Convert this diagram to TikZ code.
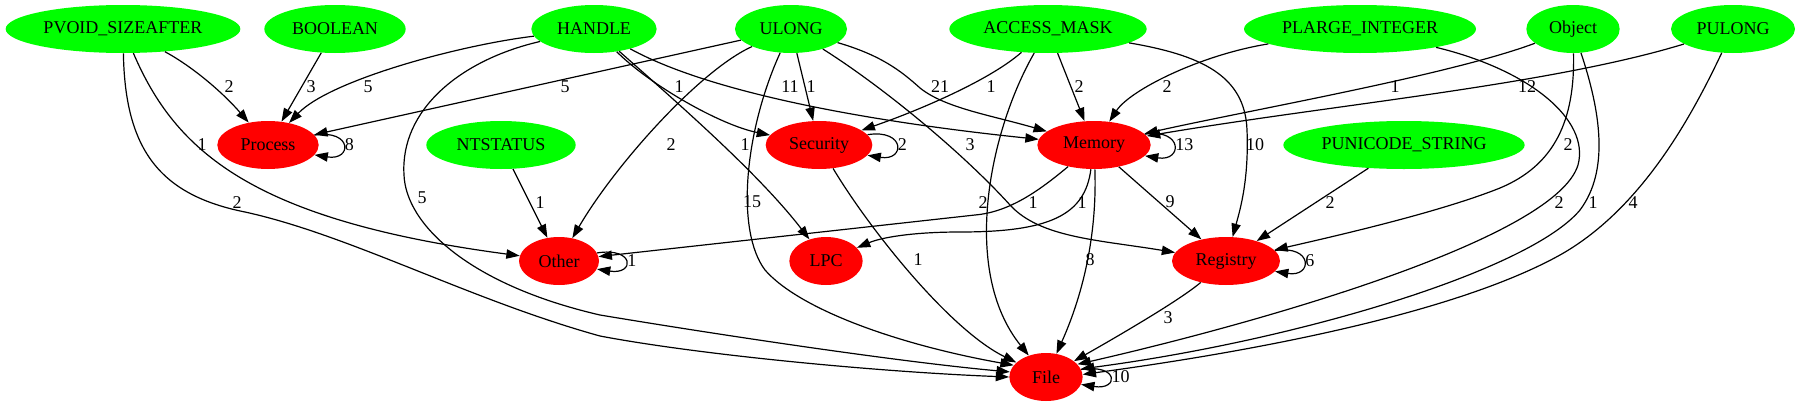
\documentclass[tikz,border=0pt]{standalone}
\usepackage{fontspec}
\setmainfont{Liberation Serif}
\usetikzlibrary{shapes.geometric,arrows.meta}
\definecolor{gvgreen}{HTML}{00FF00}
\definecolor{gvred}{HTML}{FF0000}

\begin{document}
\begin{tikzpicture}[x=0.75pt, y=-0.75pt,
    font=\fontsize{13.5}{16}\selectfont,
    >={Triangle[length=10pt,width=7pt]},
    typenode/.style={ellipse, fill=gvgreen, minimum height=36pt, inner sep=0pt},
    catnode/.style={ellipse, fill=gvred, minimum height=36pt, inner sep=0pt},
    link/.style={->, line width=0.9pt},
    lbl/.style={inner sep=1pt}]
                \useasboundingbox (0,0) rectangle (1801,407);
                \node[typenode, minimum width=176pt] (pvoid) at (123,29) {PVOID\_SIZEAFTER};
                \node[typenode, minimum width=106pt] (boolean) at (335,29) {BOOLEAN};
                \node[typenode, minimum width=94pt] (handle) at (594,29) {HANDLE};
                \node[typenode, minimum width=84pt] (ulong) at (791,29) {ULONG};
                \node[typenode, minimum width=148pt] (accessmask) at (1048,29) {ACCESS\_MASK};
                \node[typenode, minimum width=174pt] (plarge) at (1360,29) {PLARGE\_INTEGER};
                \node[typenode, minimum width=70pt] (object) at (1573,29) {Object};
                \node[typenode, minimum width=93pt] (pulong) at (1733,29) {PULONG};
                \node[catnode, minimum width=76pt] (process) at (268,145) {Process};
                \node[typenode, minimum width=112pt] (ntstatus) at (501,145) {NTSTATUS};
                \node[catnode, minimum width=80pt] (security) at (819,145) {Security};
                \node[catnode, minimum width=85pt] (memory) at (1094,145) {Memory};
                \node[typenode, minimum width=181pt] (punicode) at (1404,145) {PUNICODE\_STRING};
                \node[catnode, minimum width=60pt] (other) at (559,261) {Other};
                \node[catnode, minimum width=55pt] (lpc) at (826,261) {LPC};
                \node[catnode, minimum width=81pt] (registry) at (1226,261) {Registry};
                \node[catnode, minimum width=55pt] (file) at (1046,377) {File};
                \draw[link] (pvoid) .. controls (195,68) and (225,95) .. (process) node[lbl] at (229,87) {2};
                \draw[link] (pvoid) .. controls (175,150) and (250,220) .. (other) node[lbl] at (202,145) {1};
                \draw[link] (pvoid) .. controls (125,150) and (160,195) .. (245,212)
                    .. controls (350,235) and (470,300) .. (600,336)
                    .. controls (700,355) and (880,372) .. (file.180) node[lbl] at (237,203) {2};
                \draw[link] (boolean) -- (process) node[lbl] at (311,87) {3};
                \draw[link] (handle) .. controls (460,45) and (330,80) .. (process) node[lbl] at (368,87) {5};
                \draw[link] (handle) .. controls (460,60) and (400,110) .. (404,175)
                    .. controls (406,225) and (470,285) .. (600,315)
                    .. controls (720,335) and (900,362) .. (file.172) node[lbl] at (422,198) {5};
                \draw[link] (handle) .. controls (650,85) and (720,125) .. (security) node[lbl] at (679,87) {1};
                \draw[link] (handle) .. controls (680,105) and (760,175) .. (lpc) node[lbl] at (745,145) {1};
                \draw[link] (handle) .. controls (720,98) and (900,125) .. (memory) node[lbl] at (790,87) {11};
                \draw[link] (ulong) -- (process) node[lbl] at (565,87) {5};
                \draw[link] (ulong) .. controls (700,70) and (615,165) .. (other) node[lbl] at (671,145) {2};
                \draw[link] (ulong) .. controls (745,130) and (735,230) .. (765,270)
                    .. controls (800,310) and (900,345) .. (file.160) node[lbl] at (752,202) {15};
                \draw[link] (ulong) -- (security) node[lbl] at (811,87) {1};
                \draw[link] (ulong) .. controls (880,85) and (960,150) .. (1010,205)
                    .. controls (1040,238) and (1100,240) .. (registry) node[lbl] at (970,145) {3};
                \draw[link] (ulong) .. controls (880,55) and (900,70) .. (920,88)
                    .. controls (945,108) and (990,115) .. (memory) node[lbl] at (940,87) {21};
                \draw[link] (accessmask) .. controls (990,80) and (920,110) .. (security) node[lbl] at (991,87) {1};
                \draw[link] (accessmask) .. controls (990,130) and (960,270) .. (file) node[lbl] at (983,203) {2};
                \draw[link] (accessmask) -- (memory) node[lbl] at (1079,87) {2};
                \draw[link] (accessmask) .. controls (1200,55) and (1245,75) .. (1247,130)
                    .. controls (1249,180) and (1240,210) .. (registry) node[lbl] at (1255,145) {10};
                \draw[link] (plarge) .. controls (1200,55) and (1130,90) .. (memory) node[lbl] at (1167,87) {2};
                \draw[link] (plarge) .. controls (1530,70) and (1590,120) .. (1578,165)
                    .. controls (1555,240) and (1250,325) .. (file.22) node[lbl] at (1559,203) {2};
                \draw[link] (object) .. controls (1450,75) and (1250,110) .. (memory) node[lbl] at (1395,87) {1};
                \draw[link] (object) .. controls (1575,120) and (1555,165) .. (1500,188)
                    .. controls (1440,212) and (1340,235) .. (registry) node[lbl] at (1568,145) {2};
                \draw[link] (object) .. controls (1600,110) and (1610,170) .. (1580,210)
                    .. controls (1530,270) and (1300,340) .. (file.13) node[lbl] at (1593,203) {1};
                \draw[link] (pulong) .. controls (1550,85) and (1330,105) .. (memory) node[lbl] at (1527,87) {12};
                \draw[link] (pulong) .. controls (1690,120) and (1640,210) .. (1560,255)
                    .. controls (1470,305) and (1300,345) .. (file.4) node[lbl] at (1633,203) {4};
                \draw[link] (ntstatus) -- (other) node[lbl] at (540,203) {1};
                \draw[link] (punicode) -- (registry) node[lbl] at (1330,203) {2};
                \draw[link] (security) .. controls (870,230) and (950,330) .. (file) node[lbl] at (918,260) {1};
                \draw[link] (memory) .. controls (1040,190) and (1010,212) .. (975,215) -- (other) node[lbl] at (1033,203) {1};
                \draw[link] (memory) .. controls (1085,215) and (1050,232) .. (960,232)
                    .. controls (910,232) and (880,238) .. (lpc) node[lbl] at (1082,203) {1};
                \draw[link] (memory) .. controls (1097,230) and (1085,290) .. (file) node[lbl] at (1090,260) {8};
                \draw[link] (memory) -- (registry) node[lbl] at (1170,202) {9};
                \draw[link] (registry) .. controls (1180,300) and (1120,335) .. (file) node[lbl] at (1168,318) {3};
                \foreach \cat/\num in {process/8, security/2, memory/13, other/1, registry/6, file/10}
                {
                \draw[link] (\cat.12) .. controls +(38,-6) and +(38,6) .. (\cat.-12) node[lbl, pos=0.5, right] {\num};
                }
            \end{tikzpicture}
\end{document}
